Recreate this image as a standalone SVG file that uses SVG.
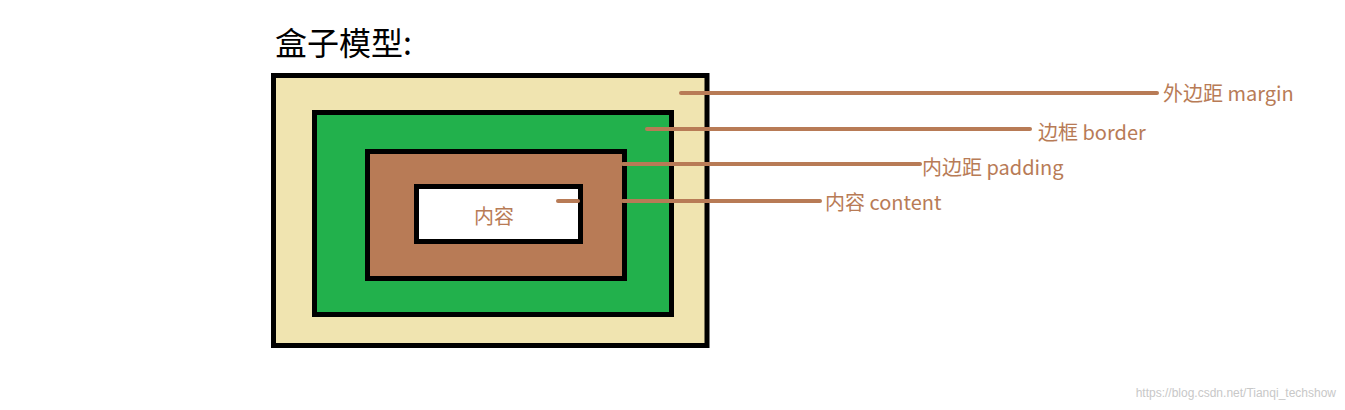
<svg xmlns="http://www.w3.org/2000/svg" width="1345" height="410" viewBox="0 0 1345 410">
<style>
.box{stroke:#000;stroke-width:5}
.ln{stroke:#b87b56;stroke-width:4;stroke-linecap:round;fill:none}
.lb{font-family:"Noto Sans CJK SC","Noto Sans",sans-serif;font-size:20px;fill:#b87b56}
</style>
<rect width="1345" height="410" fill="#fff"/>
<text x="275" y="55" font-family="Noto Sans CJK SC,sans-serif" font-size="32" fill="#000">盒子模型:</text>
<g id="margin"><rect class="box" x="273.5" y="75.5" width="433.5" height="270" fill="#f0e4b0"/></g>
<g id="border"><rect class="box" x="314.5" y="112.5" width="357" height="202" fill="#22b14c"/></g>
<g id="padding"><rect class="box" x="367.5" y="151.5" width="257" height="127" fill="#b87b56"/></g>
<g id="content"><rect class="box" x="416.5" y="186.5" width="164" height="55" fill="#fff"/>
<text class="lb" x="494" y="224" text-anchor="middle">内容</text></g>
<g id="connectors">
<line class="ln" x1="681" y1="93" x2="1157" y2="93"/>
<line class="ln" x1="647" y1="129" x2="1030" y2="129"/>
<line class="ln" x1="623" y1="164" x2="920" y2="164"/>
<line class="ln" x1="558" y1="201" x2="578" y2="201"/>
<line class="ln" x1="623" y1="201" x2="820" y2="201"/>
</g>
<g id="labels">
<text class="lb" x="1163" y="101">外边距  margin</text>
<text class="lb" x="1038" y="140">边框 border</text>
<text class="lb" x="922" y="175">内边距 padding</text>
<text class="lb" x="825" y="210">内容 content</text>
</g>
<text x="1336" y="397" text-anchor="end" font-family="Liberation Sans,sans-serif" font-size="12" fill="#c8c8c8">https://blog.csdn.net/Tianqi_techshow</text>
</svg>
